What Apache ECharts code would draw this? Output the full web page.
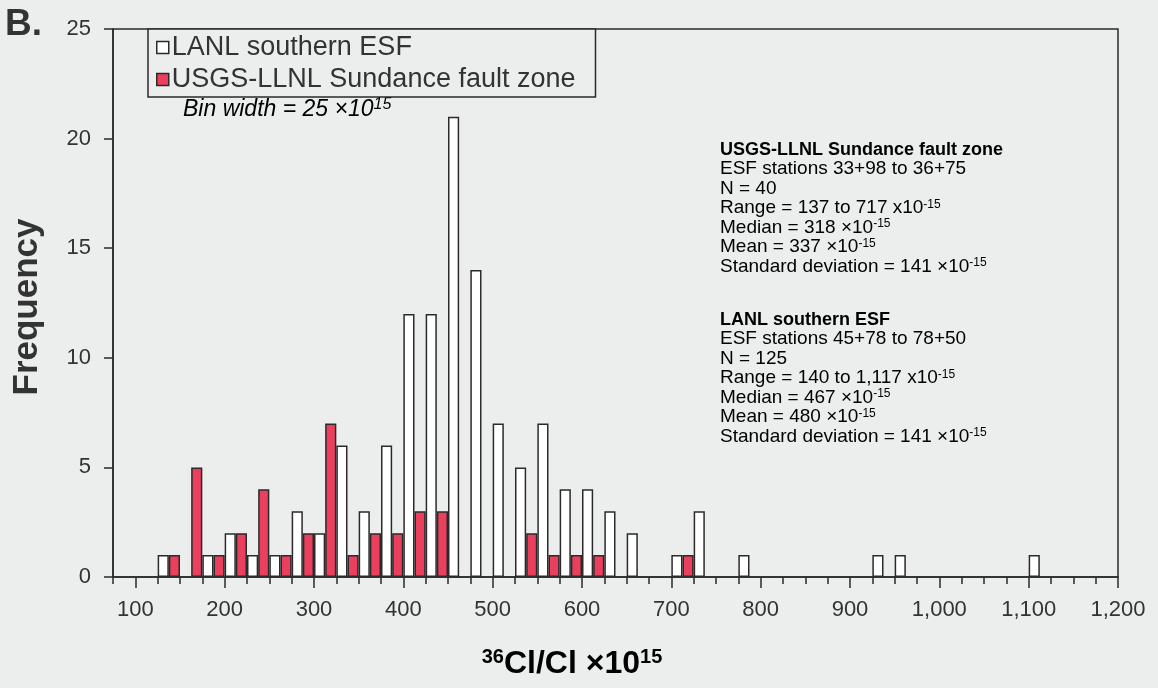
<!DOCTYPE html>
<html>
<head>
<meta charset="utf-8">
<script src="https://cdn.jsdelivr.net/npm/echarts@6/dist/echarts.min.js"></script>
<style>
  html, body { margin: 0; padding: 0; background: #eceeed; }
  #chart { width: 1158px; height: 688px; }
</style>
</head>
<body>
<div id="chart"></div>
<script>
// Bin starts (bin width 25)
const bins = [75,100,125,150,175,200,225,250,275,300,325,350,375,400,425,450,475,500,525,550,
              575,600,625,650,675,700,725,750,775,800,825,850,875,900,925,950,975,1000,1025,1050,
              1075,1100,1125,1150,1175];
// LANL southern ESF counts per bin
const lanl = [0,0,1,0,1, 2,1,1,3,2, 6,3,6,12,12, 21,14,7,5,7, 4,4,3,2,0, 1,3,0,1,0,
              0,0,0,0,1, 1,0,0,0,0, 0,1,0,0,0];
// USGS-LLNL Sundance fault zone counts per bin
const usgs = [0,0,1,5,1, 2,4,1,2,7, 1,2,2,3,3, 0,0,0,2,1, 1,1,0,0,0, 1,0,0,0,0,
              0,0,0,0,0, 0,0,0,0,0, 0,0,0,0,0];
// Axis ticks / labels
const majorTicks = [100,200,300,400,500,600,700,800,900,1000,1100,1200];

const FONT = "'Liberation Sans', Arial, Helvetica, sans-serif";
const TXT = '#333333';
const LINE = '#2a2a2a';
const RED = '#ea3f5d';

const chart = echarts.init(document.getElementById('chart'), null, { renderer: 'canvas' });

const nz = a => a.map(v => (v === 0 ? null : v));

const supStyle = { fontFamily: FONT, fontSize: 12, color: TXT, verticalAlign: 'top', lineHeight: 12 };
const lineStyle = { fontFamily: FONT, fontSize: 19, color: TXT, lineHeight: 19.5 };

function block(title, lines) {
  return ['{b|' + title + '}'].concat(lines.map(l => '{n|' + l.replace(/\^(\S+)/g, '}{s|$1}{n|') + '}')).join('\n');
}

const block1 = block('USGS-LLNL Sundance fault zone', [
  'ESF stations 33+98 to 36+75',
  'N = 40',
  'Range = 137 to 717 x10^-15',
  'Median = 318 ×10^-15',
  'Mean = 337 ×10^-15',
  'Standard deviation = 141 ×10^-15'
]);
const block2 = block('LANL southern ESF', [
  'ESF stations 45+78 to 78+50',
  'N = 125',
  'Range = 140 to 1,117 x10^-15',
  'Median = 467 ×10^-15',
  'Mean = 480 ×10^-15',
  'Standard deviation = 141 ×10^-15'
]);

const richBlock = {
  b: Object.assign({}, lineStyle, { fontWeight: 'bold', fontSize: 18 }),
  n: lineStyle,
  s: supStyle
};

const option = {
  backgroundColor: '#eceeed',
  animation: false,
  grid: {
    left: 113, right: 40, top: 29, bottom: 111,
    show: true, borderColor: LINE, borderWidth: 1.5, backgroundColor: 'transparent'
  },
  legend: {
    orient: 'vertical',
    left: 148, top: 29,
    padding: [5, 20, 4, 8],
    itemGap: 5,
    itemWidth: 12, itemHeight: 12,
    icon: 'rect',
    borderColor: LINE, borderWidth: 1.5,
    backgroundColor: '#eceeed',
    textStyle: { fontFamily: FONT, fontSize: 27, color: TXT, padding: [0, 0, 0, -2] },
    data: [
      { name: 'LANL southern ESF', itemStyle: { color: '#ffffff', borderColor: LINE, borderWidth: 1.5 } },
      { name: 'USGS-LLNL Sundance fault zone', itemStyle: { color: RED, borderColor: LINE, borderWidth: 1.5 } }
    ]
  },
  xAxis: [
    { type: 'category', data: bins, show: false, boundaryGap: true, gridIndex: 0 },
    {
      type: 'value', min: 75, max: 1200, position: 'bottom', gridIndex: 0,
      axisLine: { show: true, lineStyle: { color: LINE, width: 1.5 } },
      axisTick: { show: true, customValues: majorTicks, length: 11, lineStyle: { color: LINE, width: 1.5 } },
      axisLabel: {
        show: true, customValues: majorTicks, margin: 22,
        fontFamily: FONT, fontSize: 22, color: TXT,
        formatter: v => v.toLocaleString('en-US')
      },
      splitLine: { show: false }
    },
    {
      type: 'value', min: 75, max: 1200, interval: 25, position: 'bottom', gridIndex: 0,
      axisLine: { show: false },
      axisTick: { show: true, length: 7, lineStyle: { color: LINE, width: 1.5 } },
      axisLabel: { show: false },
      splitLine: { show: false }
    }
  ],
  yAxis: {
    type: 'value', min: 0, max: 25, interval: 5,
    axisLine: { show: true, lineStyle: { color: LINE, width: 1.5 } },
    axisTick: { show: true, length: 9, lineStyle: { color: LINE, width: 1.5 } },
    axisLabel: { fontFamily: FONT, fontSize: 22, color: TXT, margin: 22 },
    splitLine: { show: false }
  },
  series: [
    {
      name: 'LANL southern ESF', type: 'bar', xAxisIndex: 0, yAxisIndex: 0,
      data: nz(lanl), barGap: '0%', barCategoryGap: '0%',
      itemStyle: { color: '#ffffff', borderColor: LINE, borderWidth: 1.5 }
    },
    {
      name: 'USGS-LLNL Sundance fault zone', type: 'bar', xAxisIndex: 0, yAxisIndex: 0,
      data: nz(usgs), barGap: '0%', barCategoryGap: '0%',
      itemStyle: { color: RED, borderColor: LINE, borderWidth: 1.5 }
    }
  ],
  graphic: [
    {
      type: 'text', left: 5, top: 6,
      style: { text: 'B.', font: 'bold 37px ' + FONT, fill: TXT }
    },
    {
      type: 'text', x: 27, y: 307, rotation: Math.PI / 2,
      style: { text: 'Frequency', font: 'bold 35px ' + FONT, fill: TXT, align: 'center', verticalAlign: 'middle' }
    },
    {
      type: 'text', x: 572, y: 664,
      style: {
        text: '{s|36}{b|Cl/Cl ×10}{s|15}',
        align: 'center', verticalAlign: 'middle',
        rich: {
          b: { fontFamily: FONT, fontSize: 32, fontWeight: 'bold', color: TXT, lineHeight: 34 },
          s: { fontFamily: FONT, fontSize: 20, fontWeight: 'bold', color: TXT, lineHeight: 22, verticalAlign: 'top' }
        }
      }
    },
    {
      type: 'text', x: 183, y: 110,
      style: {
        text: '{b|Bin width = 25 ×10}{s|15}',
        align: 'left', verticalAlign: 'middle',
        rich: {
          b: { fontFamily: FONT, fontSize: 23, fontStyle: 'italic', color: TXT, lineHeight: 26 },
          s: { fontFamily: FONT, fontSize: 16, fontStyle: 'italic', color: TXT, lineHeight: 14, verticalAlign: 'top' }
        }
      }
    },
    {
      type: 'text', x: 720, y: 140,
      style: { text: block1, align: 'left', verticalAlign: 'top', rich: richBlock }
    },
    {
      type: 'text', x: 720, y: 310,
      style: { text: block2, align: 'left', verticalAlign: 'top', rich: richBlock }
    }
  ]
};

chart.setOption(option);
</script>
</body>
</html>
